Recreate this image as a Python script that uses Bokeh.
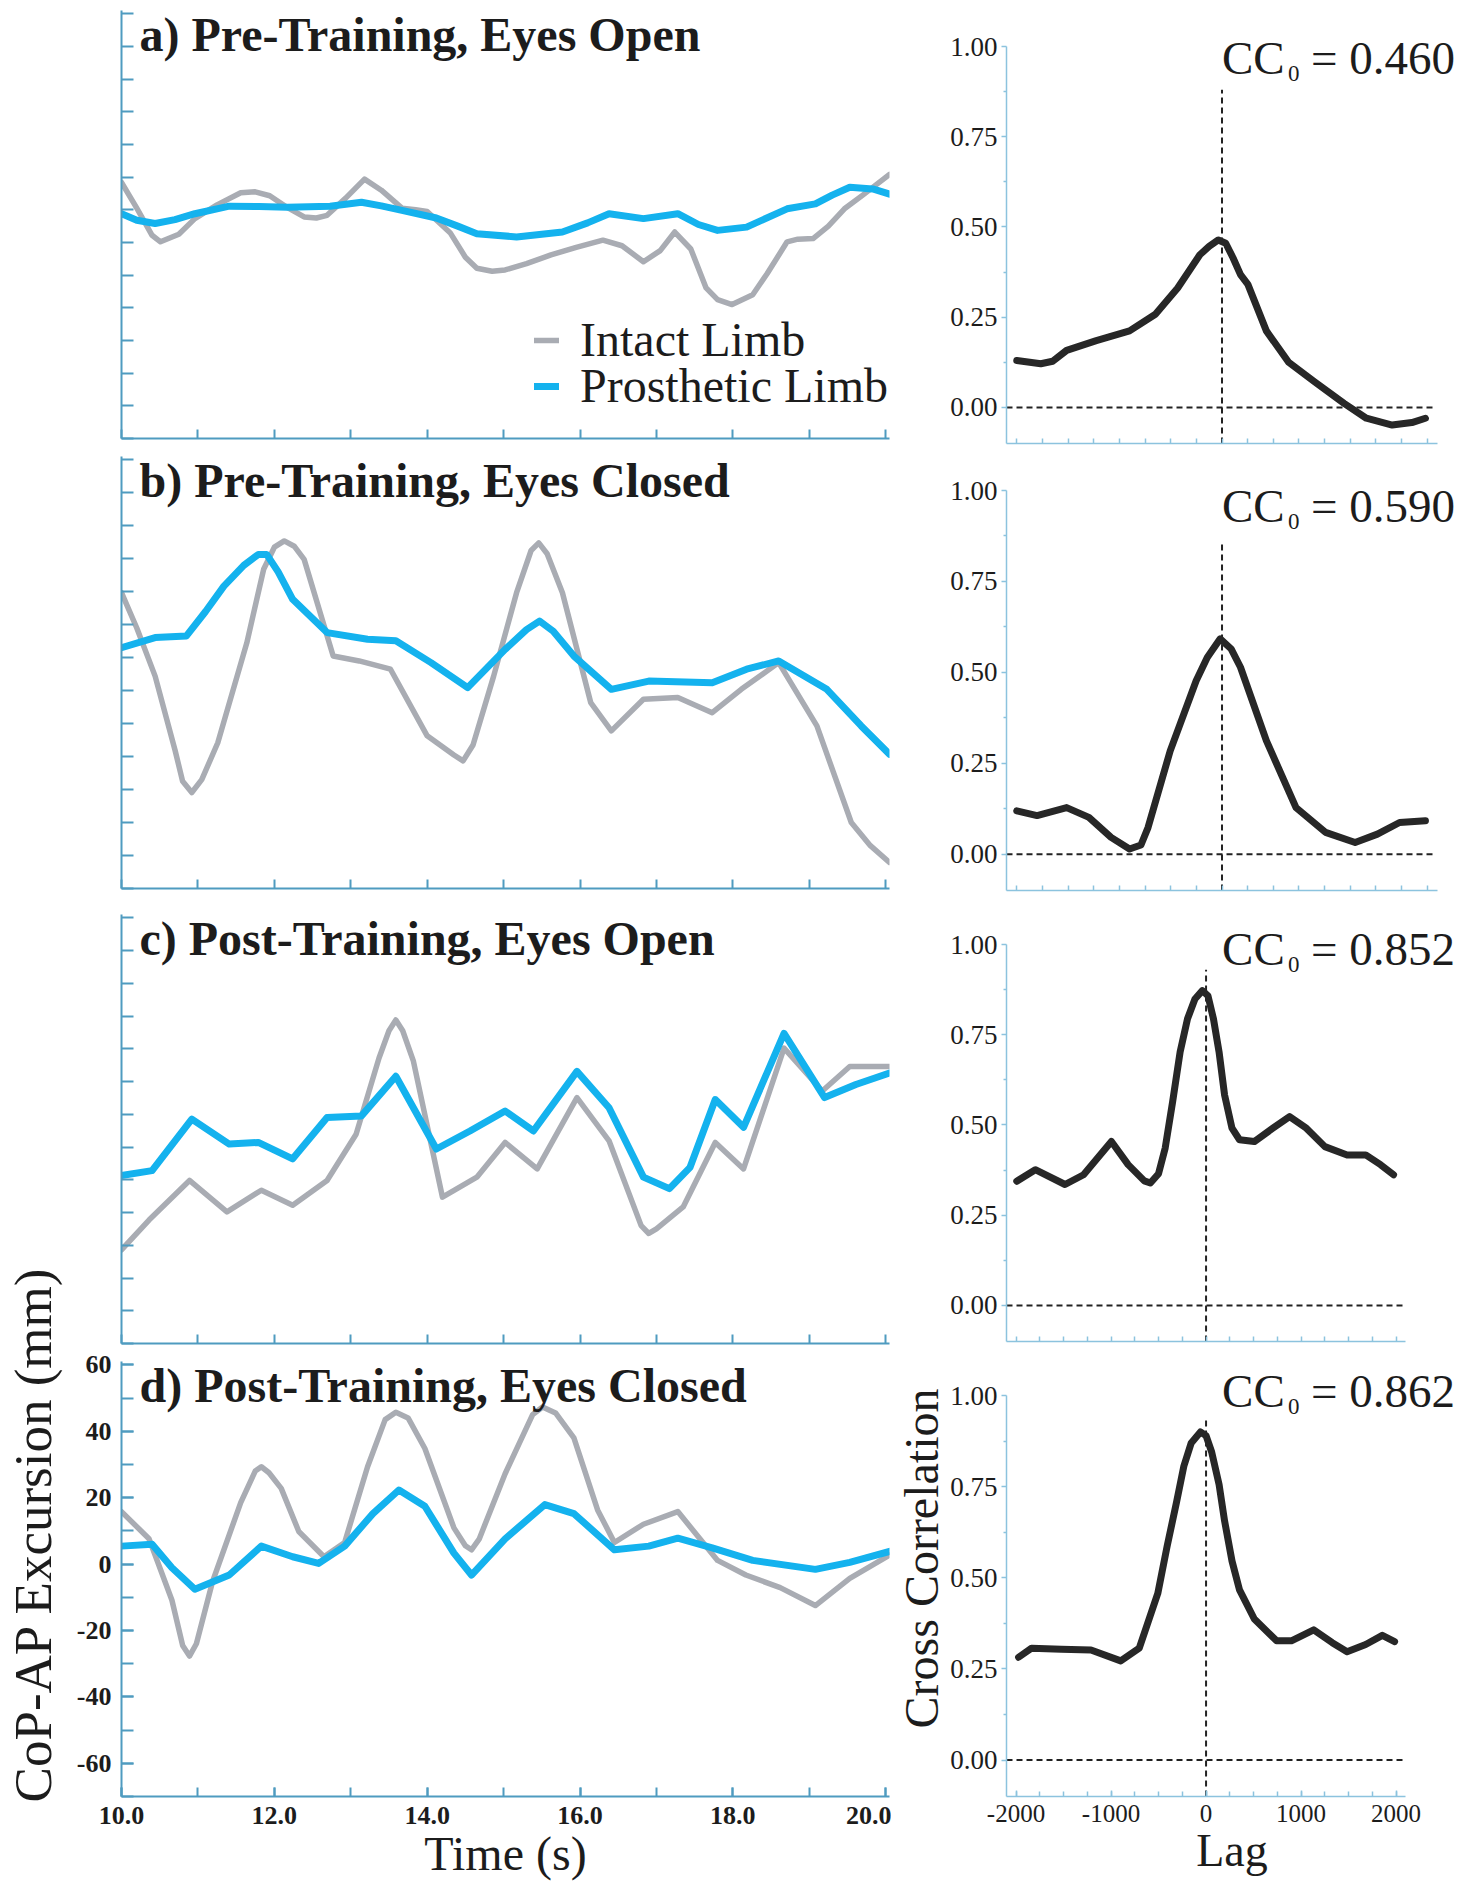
import math
from bokeh.plotting import figure
from bokeh.models import Range1d, FixedTicker, Label, Legend, LegendItem, NumeralTickFormatter
from bokeh.layouts import row, column
from bokeh.embed import file_html
from bokeh.resources import INLINE

# ---------------- data ----------------
titles = ["a) Pre-Training, Eyes Open", "b) Pre-Training, Eyes Closed",
          "c) Post-Training, Eyes Open", "d) Post-Training, Eyes Closed"]
series_names = ["Intact Limb", "Prosthetic Limb"]
cc0_values = ["0.460", "0.590", "0.852", "0.862"]

time_ticks = [10, 12, 14, 16, 18, 20]
time_tick_labels = ["10.0", "12.0", "14.0", "16.0", "18.0", "20.0"]
cop_ticks = [-60, -40, -20, 0, 20, 40, 60]
cop_tick_labels = ["-60", "-40", "-20", "0", "20", "40", "60"]
lag_ticks = [-2000, -1000, 0, 1000, 2000]
lag_tick_labels = ["-2000", "-1000", "0", "1000", "2000"]
cc_ticks = [0.0, 0.25, 0.5, 0.75, 1.0]

# a) Pre-Training, Eyes Open
a_intact_t = [10.0, 10.2, 10.4, 10.51, 10.75, 10.96, 11.25, 11.56, 11.75, 11.94, 12.15, 12.39, 12.55, 12.69,
              12.93, 13.18, 13.4, 13.67, 13.85, 14.0, 14.3, 14.5, 14.65, 14.85, 15.02, 15.3, 15.62, 15.95,
              16.3, 16.55, 16.83, 17.05, 17.24, 17.45, 17.65, 17.8, 17.99, 18.26, 18.45, 18.71, 18.85,
              19.05, 19.25, 19.46, 19.7, 20.05]
a_intact_v = [8.4, 0.5, -7.8, -9.8, -7.5, -2.7, 1.5, 5.2, 5.5, 4.3, 1.0, -2.2, -2.5, -1.7,
              3.5, 9.4, 6.0, 0.5, 0.0, -0.5, -7.0, -14.5, -17.9, -18.8, -18.4, -16.5, -13.8, -11.5,
              -9.3, -11.0, -15.9, -12.5, -6.8, -12.0, -23.9, -27.5, -29.0, -26.0, -19.5, -9.8, -9.0,
              -8.8, -5.0, 0.3, 4.5, 10.8]
a_prosth_t = [10.0, 10.2, 10.44, 10.7, 10.96, 11.41, 11.8, 12.17, 12.73, 13.14, 13.4, 13.67, 14.12, 14.4,
              14.65, 15.17, 15.77, 16.1, 16.38, 16.83, 17.28, 17.55, 17.8, 18.18, 18.71, 19.08, 19.3,
              19.53, 19.83, 20.05]
a_prosth_v = [-1.2, -3.2, -4.2, -3.0, -1.2, 1.1, 1.0, 0.8, 1.1, 2.3, 1.2, -0.2, -2.5, -5.0,
              -7.3, -8.3, -6.8, -4.0, -1.2, -2.7, -1.2, -4.5, -6.3, -5.3, 0.3, 1.8, 4.5,
              6.9, 6.4, 4.8]

# b) Pre-Training, Eyes Closed
b_intact_t = [10.0, 10.2, 10.44, 10.7, 10.8, 10.92, 11.05, 11.26, 11.64, 11.86, 12.0, 12.13, 12.26, 12.39,
              12.77, 13.11, 13.52, 14.0, 14.35, 14.47, 14.6, 14.87, 15.17, 15.36, 15.46, 15.57, 15.77,
              16.14, 16.41, 16.83, 17.28, 17.73, 18.11, 18.6, 19.1, 19.55, 19.8, 20.05]
b_intact_v = [19.7, 9.0, -5.6, -28.0, -37.5, -40.9, -37.0, -25.8, 4.5, 26.8, 33.5, 35.4, 33.8, 29.8,
              0.5, -1.0, -3.5, -23.7, -29.5, -31.3, -26.5, -5.6, 19.7, 32.5, 34.8, 31.5, 19.7,
              -13.6, -22.2, -12.6, -12.1, -16.7, -9.6, -1.5, -20.7, -50.0, -57.0, -62.1]
b_prosth_t = [10.0, 10.44, 10.85, 11.1, 11.34, 11.6, 11.79, 11.9, 12.05, 12.24, 12.69, 13.22, 13.59,
              14.05, 14.53, 15.02, 15.3, 15.47, 15.65, 15.92, 16.41, 16.9, 17.73, 18.18, 18.6, 19.23,
              19.68, 20.05]
b_prosth_v = [3.0, 6.1, 6.6, 14.0, 21.7, 28.0, 31.3, 31.3, 26.0, 17.7, 7.6, 5.6, 5.1,
              -1.5, -9.1, 2.5, 8.5, 11.1, 8.0, 0.5, -9.6, -7.1, -7.6, -3.5, -1.0, -9.6,
              -20.7, -29.3]

# c) Post-Training, Eyes Open
c_intact_t = [10.0, 10.36, 10.89, 11.38, 11.83, 12.24, 12.69, 13.07, 13.37, 13.5, 13.59, 13.68, 13.82,
              14.2, 14.65, 15.02, 15.44, 15.96, 16.38, 16.8, 16.9, 17.0, 17.35, 17.77, 18.14, 18.67,
              19.17, 19.53, 20.05]
c_intact_v = [-41.4, -32.3, -20.2, -29.8, -23.2, -27.8, -20.2, -6.1, 17.2, 25.5, 28.8, 25.5, 16.2,
              -25.3, -19.2, -8.6, -16.7, 5.1, -8.1, -34.0, -36.4, -35.0, -28.3, -8.6, -16.7, 20.2,
              7.1, 14.6, 14.6]
c_prosth_t = [10.0, 10.4, 10.92, 11.41, 11.79, 12.24, 12.69, 13.14, 13.59, 14.12, 14.56, 15.02, 15.39,
              15.96, 16.38, 16.83, 17.17, 17.44, 17.77, 18.14, 18.67, 19.2, 19.61, 20.05]
c_prosth_v = [-18.7, -17.2, -1.5, -9.1, -8.6, -13.6, -1.0, -0.5, 11.6, -10.6, -5.1, 1.0, -5.1,
              13.1, 2.0, -19.2, -22.7, -16.2, 4.5, -4.0, 24.7, 5.1, 9.1, 12.6]

# d) Post-Training, Eyes Closed
d_intact_t = [10.0, 10.36, 10.66, 10.8, 10.89, 10.98, 11.19, 11.56, 11.75, 11.83, 11.93, 12.09, 12.32,
              12.65, 12.92, 13.22, 13.45, 13.59, 13.75, 13.97, 14.35, 14.5, 14.58, 14.68, 15.02, 15.38,
              15.51, 15.68, 15.92, 16.23, 16.45, 16.83, 17.28, 17.8, 18.17, 18.62, 19.08, 19.53, 20.05]
d_intact_v = [15.8, 7.6, -10.9, -24.5, -27.7, -24.0, -5.4, 18.5, 28.0, 29.3, 27.5, 22.8, 9.8,
              2.2, 6.5, 29.3, 43.5, 45.7, 44.0, 34.8, 10.9, 5.5, 4.3, 7.5, 27.2, 45.0,
              47.3, 45.5, 38.0, 16.3, 6.5, 12.0, 15.8, 1.1, -3.3, -7.1, -12.5, -4.3, 2.7]
d_prosth_t = [10.0, 10.4, 10.66, 10.96, 11.41, 11.83, 12.24, 12.58, 12.92, 13.29, 13.63, 13.97, 14.35,
              14.58, 15.02, 15.54, 15.92, 16.45, 16.9, 17.28, 17.73, 18.26, 19.08, 19.53, 20.05]
d_prosth_v = [5.4, 6.0, -1.1, -7.6, -3.3, 5.4, 2.2, 0.2, 5.4, 15.2, 22.3, 17.4, 3.3,
              -3.3, 7.6, 17.9, 15.2, 4.3, 5.4, 7.8, 4.9, 1.1, -1.6, 0.5, 3.8]

# Cross-correlation curves
cc_a_lag = [-2000, -1766, -1650, -1514, -1225, -901, -649, -432, -216, -126, -36, 36, 108, 180, 252,
            432, 649, 901, 1189, 1406, 1658, 1850, 1982]
cc_a_val = [0.130, 0.121, 0.128, 0.158, 0.185, 0.212, 0.258, 0.331, 0.423, 0.446, 0.464, 0.455,
            0.414, 0.368, 0.341, 0.212, 0.125, 0.071, 0.011, -0.030, -0.049, -0.042, -0.030]
cc_b_lag = [-2000, -1802, -1514, -1297, -1081, -901, -790, -721, -505, -252, -144, -18, 90, 180, 432,
            721, 1009, 1297, 1514, 1730, 1982]
cc_b_val = [0.119, 0.106, 0.128, 0.101, 0.046, 0.014, 0.025, 0.073, 0.284, 0.477, 0.541, 0.592,
            0.564, 0.514, 0.312, 0.128, 0.060, 0.032, 0.055, 0.087, 0.092]
cc_c_lag = [-1992, -1797, -1484, -1289, -996, -820, -650, -586, -500, -430, -352, -273, -195, -117,
            -39, 20, 78, 137, 195, 273, 352, 508, 703, 879, 1055, 1250, 1484, 1680, 1836, 1973]
cc_c_val = [0.344, 0.376, 0.335, 0.362, 0.454, 0.390, 0.345, 0.339, 0.365, 0.436, 0.564, 0.702,
            0.794, 0.849, 0.872, 0.858, 0.794, 0.702, 0.583, 0.491, 0.459, 0.454, 0.491, 0.523,
            0.491, 0.440, 0.417, 0.417, 0.390, 0.362]
cc_d_lag = [-1973, -1836, -1523, -1211, -898, -703, -508, -410, -312, -234, -156, -59, 0, 59, 137,
            195, 273, 352, 508, 742, 898, 1133, 1328, 1484, 1680, 1855, 1984]
cc_d_val = [0.282, 0.307, 0.304, 0.302, 0.272, 0.307, 0.457, 0.586, 0.706, 0.806, 0.870, 0.900,
            0.890, 0.845, 0.756, 0.656, 0.546, 0.467, 0.387, 0.327, 0.327, 0.357, 0.322, 0.297,
            0.317, 0.342, 0.325]
cc_marker_top = [0.88, 0.86, 0.93, 0.94]

# ---------------- styles / layout ----------------
SERIF = "Liberation Serif"
GRAY = "#a9acb3"
BLUE = "#14b2ee"
LEFT_AX = "#4f9bc0"
RIGHT_AX = "#8cc3de"
INK = "#1c1c1c"

YLAB_W = 64
LEFT_W = 827
CCLAB_W = 56
RIGHT_W = 510
RIGHT_LB = 58
RIGHT_FRAME = RIGHT_W - RIGHT_LB
ROW_H = [454, 448, 445, 538]
LEFT_TB = [(10, 16), (2, 14), (12, 4), (14, 89)]
RIGHT_TB = [(46, 11), (36, 12), (42, 6), (48, 89)]   # where the 1.00 / -0.10 ends of the axis sit
RIGHT_TOP_PAD = 4
AXIS_PX = [432, 432, 400, 400]   # pixel length of the lag axis in each right panel
CC_BASE_Y = [0.967, 0.957, 0.987, 1.011]
CC_DX = [0, 0, 16, 16]


def style_axis(ax, color, width, tin, tout, min_in, min_out, size, bold):
    ax.axis_line_color = color
    ax.axis_line_width = width
    ax.major_tick_line_color = color
    ax.minor_tick_line_color = color
    ax.major_tick_line_width = width
    ax.minor_tick_line_width = width
    ax.major_tick_in = tin
    ax.major_tick_out = tout
    ax.minor_tick_in = min_in
    ax.minor_tick_out = min_out
    ax.major_label_text_font = SERIF
    ax.major_label_text_color = INK
    ax.major_label_text_font_style = "bold" if bold else "normal"
    ax.major_label_text_font_size = size


def make_legend(item, y):
    return Legend(items=[item], location=(413, y), label_text_font=SERIF, label_text_font_size="48px",
                  label_text_color=INK, glyph_width=25, glyph_height=20, label_standoff=21,
                  spacing=0, padding=0, margin=0, border_line_color=None, background_fill_alpha=0)


def left_fig(i, intact_t, intact_v, prosth_t, prosth_v):
    last = (i == 3)
    top, bot = LEFT_TB[i]
    p = figure(width=LEFT_W, height=ROW_H[i], x_range=Range1d(10, 20.05), y_range=Range1d(-70, 61),
               output_backend="svg", toolbar_location=None,
               min_border_left=57, min_border_right=2, min_border_top=top, min_border_bottom=bot)
    p.outline_line_color = None
    p.grid.visible = False
    xa, ya = p.xaxis[0], p.yaxis[0]
    if last:
        xa.ticker = FixedTicker(ticks=time_ticks, minor_ticks=list(range(10, 21)))
        ya.ticker = FixedTicker(ticks=cop_ticks, minor_ticks=list(range(-70, 61, 10)))
        xa.major_label_overrides = dict(zip(time_ticks, time_tick_labels))
        ya.major_label_overrides = dict(zip(cop_ticks, cop_tick_labels))
    else:
        xa.ticker = FixedTicker(ticks=[], minor_ticks=list(range(10, 21)))
        ya.ticker = FixedTicker(ticks=[], minor_ticks=list(range(-70, 61, 10)))
    style_axis(xa, LEFT_AX, 2, 9, 0, 9, 0, "26px", True)
    style_axis(ya, LEFT_AX, 2, 12, 0, 12, 0, "26px", True)
    xa.major_label_standoff = 10
    ya.major_label_standoff = 10
    if last:
        xa.axis_label = "Time (s)"
        xa.axis_label_text_font = SERIF
        xa.axis_label_text_font_style = "normal"
        xa.axis_label_text_font_size = "48px"
        xa.axis_label_text_color = INK
        xa.axis_label_standoff = 0
    r_gray = p.line(intact_t, intact_v, line_color=GRAY, line_width=5.5, line_join="round", line_cap="round")
    r_blue = p.line(prosth_t, prosth_v, line_color=BLUE, line_width=7, line_join="round", line_cap="round")
    p.add_layout(Label(x=10, y=61, x_offset=18, y_offset=-24, text=titles[i], text_baseline="middle",
                       text_font=SERIF, text_font_style="bold", text_font_size="48px", text_color=INK))
    if i == 0:
        p.add_layout(make_legend(LegendItem(label=series_names[0], renderers=[r_gray]), 71))
        p.add_layout(make_legend(LegendItem(label=series_names[1], renderers=[r_blue]), 25))
    return p


def right_fig(i, lag, val):
    last = (i == 3)
    top, bot = RIGHT_TB[i]
    x_end = -2100 + 4200 * RIGHT_FRAME / AXIS_PX[i]
    y_end = 1.0 + (top - RIGHT_TOP_PAD) * 1.1 / (ROW_H[i] - top - bot)
    p = figure(width=RIGHT_W, height=ROW_H[i], x_range=Range1d(-2100, x_end), y_range=Range1d(-0.1, y_end),
               output_backend="svg", toolbar_location=None,
               min_border_left=RIGHT_LB, min_border_right=0, min_border_top=RIGHT_TOP_PAD,
               min_border_bottom=bot)
    p.outline_line_color = None
    p.grid.visible = False
    xa, ya = p.xaxis[0], p.yaxis[0]
    xa.bounds = (-2100, 2100)
    ya.bounds = (-0.1, 1.0)
    if last:
        xa.ticker = FixedTicker(ticks=lag_ticks, minor_ticks=list(range(-2000, 2001, 250)))
        xa.major_label_overrides = dict(zip(lag_ticks, lag_tick_labels))
    else:
        xa.ticker = FixedTicker(ticks=[], minor_ticks=list(range(-2000, 2001, 250)))
    ya.ticker = FixedTicker(ticks=cc_ticks, minor_ticks=[0.125, 0.375, 0.625, 0.875])
    ya.formatter = NumeralTickFormatter(format="0.00")
    style_axis(xa, RIGHT_AX, 1.5, 6, 0, 5, 0, "25px", False)
    style_axis(ya, RIGHT_AX, 1.5, 0, 5, 0, 3, "27px", False)
    xa.major_label_standoff = 8
    ya.major_label_standoff = 4
    if last:
        xa.axis_label = "Lag"
        xa.axis_label_text_font = SERIF
        xa.axis_label_text_font_style = "normal"
        xa.axis_label_text_font_size = "46px"
        xa.axis_label_text_color = INK
        xa.axis_label_standoff = 0
    p.segment(x0=[-2100], y0=[0], x1=[2090], y1=[0], line_color="#222222", line_width=2, line_dash="6 4")
    p.line([0, 0], [-0.1, cc_marker_top[i]], line_color="#222222", line_width=2, line_dash="6 4")
    p.line(lag, val, line_color="#272727", line_width=7, line_join="round", line_cap="round")
    dx = CC_DX[i]
    common = dict(x=0, y=CC_BASE_Y[i], text_baseline="alphabetic", text_font=SERIF, text_color=INK)
    p.add_layout(Label(text="CC", x_offset=dx, text_font_size="47px", **common))
    p.add_layout(Label(text="0", x_offset=dx + 66, y_offset=-15, text_font_size="23px", **common))
    p.add_layout(Label(text="= " + cc0_values[i], x_offset=dx + 89, text_font_size="47px", **common))
    return p


def label_fig(width, height, text, cx, cy, size):
    p = figure(width=width, height=height, x_range=Range1d(0, width), y_range=Range1d(0, height),
               output_backend="svg", toolbar_location=None, x_axis_type=None, y_axis_type=None,
               min_border=0)
    p.outline_line_color = None
    p.grid.visible = False
    p.add_layout(Label(x=cx, y=cy, text=text, angle=math.pi / 2, text_align="center",
                       text_baseline="middle", text_font=SERIF, text_font_size=size, text_color=INK))
    return p


TOTAL_H = sum(ROW_H)

left_data = [(a_intact_t, a_intact_v, a_prosth_t, a_prosth_v),
             (b_intact_t, b_intact_v, b_prosth_t, b_prosth_v),
             (c_intact_t, c_intact_v, c_prosth_t, c_prosth_v),
             (d_intact_t, d_intact_v, d_prosth_t, d_prosth_v)]
right_data = [(cc_a_lag, cc_a_val), (cc_b_lag, cc_b_val), (cc_c_lag, cc_c_val), (cc_d_lag, cc_d_val)]

lefts = [left_fig(i, *d) for i, d in enumerate(left_data)]
rights = [right_fig(i, *d) for i, d in enumerate(right_data)]

ylab = label_fig(YLAB_W, TOTAL_H, "CoP-AP Excursion (mm)", 32, TOTAL_H - 1534, "53px")
cclab = label_fig(CCLAB_W, TOTAL_H, "Cross Correlation", 30, TOTAL_H - 1558, "48px")

layout = row(ylab, column(*lefts), cclab, column(*rights))

open("out.html", "w").write(file_html(layout, INLINE))
